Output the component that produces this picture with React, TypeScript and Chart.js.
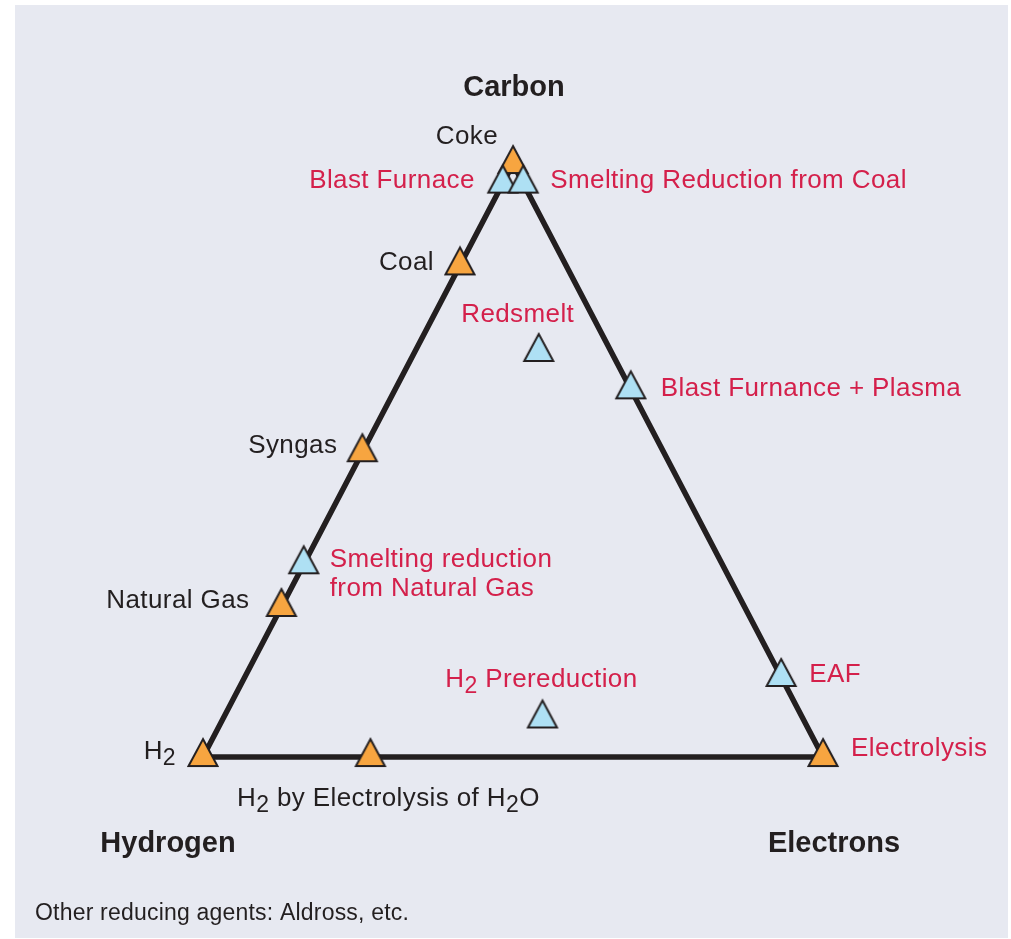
import React, { useEffect, useRef } from "react";
import { Chart, registerables } from "chart.js";
Chart.register(...registerables);

// Ternary coordinates: share of carbon (c) and electrons (e); hydrogen = 1 - c - e
const vertexNames = ["Carbon", "Hydrogen", "Electrons"];
const vertexCarbon = [1, 0, 0];
const vertexElectrons = [0, 0, 1];

const fuelNames = ["Coke", "Coal", "Syngas", "Natural Gas", "H₂", "H₂ by Electrolysis of H₂O", "Electrolysis"];
const fuelCarbon = [1.0, 0.829, 0.514, 0.253, 0, 0, 0];
const fuelElectrons = [0, 0, 0, 0, 0, 0.27, 1.0];

const processNames = [
  "Blast Furnace",
  "Smelting Reduction from Coal",
  "Redsmelt",
  "Blast Furnance + Plasma",
  "Smelting reduction\nfrom Natural Gas",
  "H₂ Prereduction",
  "EAF",
];
const processCarbon = [0.967, 0.967, 0.683, 0.62, 0.325, 0.065, 0.135];
const processElectrons = [0, 0.033, 0.2, 0.38, 0, 0.515, 0.865];

const footnote = "Other reducing agents: Aldross, etc.";

const FONT = '"Liberation Sans", Arial, Helvetica, sans-serif';
const DARK = "#231f20";
const RED = "#d4204b";
const ORANGE = "#f7a540";
const BLUE = "#aee0f4";
const PANEL = "#e7e9f1";

// label placement (style): [align, dx, dy] relative to the marker
type Place = [CanvasTextAlign, number, number];
const fuelLabelPlace: Place[] = [
  ["right", -15, -29],
  ["right", -26, -5],
  ["right", -25, -8],
  ["right", -32, -8],
  ["right", -27, -7],
  ["center", 18, 40],
  ["left", 28, -10],
];
const fuelLabelColor = [DARK, DARK, DARK, DARK, DARK, DARK, RED];
const processLabelPlace: Place[] = [
  ["right", -28, -5],
  ["left", 27, -5],
  ["center", -21, -39],
  ["left", 30, -3],
  ["left", 26, -6],
  ["center", -1, -41],
  ["left", 28, -4],
];
const vertexLabelPlace: Place[] = [
  ["center", 1, -78],
  ["center", -35, 85],
  ["center", 11, 85],
];

const toXY = (c: number, e: number) => ({ x: e + c / 2, y: c });

function makeMarker(fill: string): HTMLCanvasElement {
  const cv = document.createElement("canvas");
  const W = 36;
  const H = 42;
  cv.width = W;
  cv.height = H;
  const g = cv.getContext("2d")!;
  const cx = W / 2;
  const cy = H / 2;
  g.beginPath();
  g.moveTo(cx, cy - 18);
  g.lineTo(cx + 14.5, cy + 9);
  g.lineTo(cx - 14.5, cy + 9);
  g.closePath();
  g.fillStyle = fill;
  g.fill();
  g.lineWidth = 2;
  g.lineJoin = "miter";
  g.strokeStyle = DARK;
  g.stroke();
  return cv;
}

function drawRich(
  ctx: CanvasRenderingContext2D,
  text: string,
  x: number,
  y: number,
  align: CanvasTextAlign,
  size: number,
  color: string,
  bold: boolean,
  spacing: number
) {
  const weight = bold ? "bold " : "";
  const main = `${weight}${size}px ${FONT}`;
  const subSize = Math.round(size * 0.9);
  const sub = `${weight}${subSize}px ${FONT}`;
  (ctx as any).letterSpacing = `${spacing}px`;
  const segs: { t: string; s: boolean }[] = [];
  for (const ch of text) {
    const isSub = ch === "₂";
    const t = isSub ? "2" : ch;
    const last = segs[segs.length - 1];
    if (last && last.s === isSub) last.t += t;
    else segs.push({ t, s: isSub });
  }
  let total = 0;
  const widths = segs.map((sg) => {
    ctx.font = sg.s ? sub : main;
    const w = ctx.measureText(sg.t).width;
    total += w;
    return w;
  });
  let cx = align === "left" ? x : align === "right" ? x - total : x - total / 2;
  const yy = y + 2;
  ctx.fillStyle = color;
  ctx.textAlign = "left";
  ctx.textBaseline = "middle";
  segs.forEach((sg, i) => {
    ctx.font = sg.s ? sub : main;
    ctx.fillText(sg.t, cx, yy + (sg.s ? size * 0.27 : 0));
    cx += widths[i];
  });
  (ctx as any).letterSpacing = "0px";
}

function drawLabel(
  ctx: CanvasRenderingContext2D,
  text: string,
  px: number,
  py: number,
  place: Place,
  size: number,
  color: string,
  bold: boolean,
  lineHeight: number,
  spacing: number
) {
  const lines = text.split("\n");
  lines.forEach((ln, i) => {
    drawRich(ctx, ln, px + place[1], py + place[2] + i * lineHeight, place[0], size, color, bold, spacing);
  });
}

const bgPlugin = {
  id: "panelBg",
  beforeDraw(chart: any) {
    const ctx = chart.ctx as CanvasRenderingContext2D;
    ctx.save();
    ctx.fillStyle = "#ffffff";
    ctx.fillRect(0, 0, chart.width, chart.height);
    ctx.fillStyle = PANEL;
    ctx.fillRect(15, 5, 993, 933);
    ctx.restore();
  },
};

const labelPlugin = {
  id: "ternaryLabels",
  afterDatasetsDraw(chart: any) {
    const ctx = chart.ctx as CanvasRenderingContext2D;
    ctx.save();
    const frame = chart.getDatasetMeta(0).data;
    const fuels = chart.getDatasetMeta(1).data;
    const procs = chart.getDatasetMeta(2).data;
    // frame points order H, E, C, H
    const vPts = [frame[2], frame[0], frame[1]];
    vertexNames.forEach((n, i) => {
      drawLabel(ctx, n, vPts[i].x, vPts[i].y, vertexLabelPlace[i], 29, DARK, true, 30, 0);
    });
    fuelNames.forEach((n, i) => {
      drawLabel(ctx, n, fuels[i].x, fuels[i].y, fuelLabelPlace[i], 26, fuelLabelColor[i], false, 29, 0.4);
    });
    processNames.forEach((n, i) => {
      drawLabel(ctx, n, procs[i].x, procs[i].y, processLabelPlace[i], 26, RED, false, 29, 0.4);
    });
    drawRich(ctx, footnote, 35, 912, "left", 23, DARK, false, 0.2);
    ctx.restore();
  },
};

export default function App() {
  const ref = useRef<HTMLCanvasElement | null>(null);
  useEffect(() => {
    if (!ref.current) return;
    const frameOrder = [1, 2, 0, 1]; // Hydrogen -> Electrons -> Carbon -> Hydrogen
    const frameData = frameOrder.map((i) => toXY(vertexCarbon[i], vertexElectrons[i]));
    const fuelData = fuelCarbon.map((c, i) => toXY(c, fuelElectrons[i]));
    const procData = processCarbon.map((c, i) => toXY(c, processElectrons[i]));
    const orangeMarker = makeMarker(ORANGE);
    const blueMarker = makeMarker(BLUE);
    const chart = new Chart(ref.current, {
      type: "scatter",
      data: {
        datasets: [
          {
            label: "frame",
            data: frameData,
            showLine: true,
            borderColor: DARK,
            borderWidth: 5.5,
            pointRadius: 0,
            borderJoinStyle: "miter",
            order: 3,
          } as any,
          {
            label: "Reducing agents",
            data: fuelData,
            pointStyle: orangeMarker,
            pointRadius: 16,
            order: 2,
          },
          {
            label: "Processes",
            data: procData,
            pointStyle: blueMarker,
            pointRadius: 16,
            order: 1,
          },
        ],
      },
      options: {
        responsive: false,
        animation: false,
        layout: { padding: 0, autoPadding: false },
        plugins: { legend: { display: false }, tooltip: { enabled: false } },
        scales: {
          x: { type: "linear", display: false, min: -0.3274, max: 1.3032 },
          y: { type: "linear", display: false, min: -0.3069, max: 1.2766 },
        },
      },
      plugins: [bgPlugin, labelPlugin],
    });
    return () => chart.destroy();
  }, []);
  return (
    <div style={{ position: "fixed", left: 0, top: 0, width: 1011, height: 939 }}>
      <canvas ref={ref} width={1011} height={939} style={{ display: "block" }} />
    </div>
  );
}
